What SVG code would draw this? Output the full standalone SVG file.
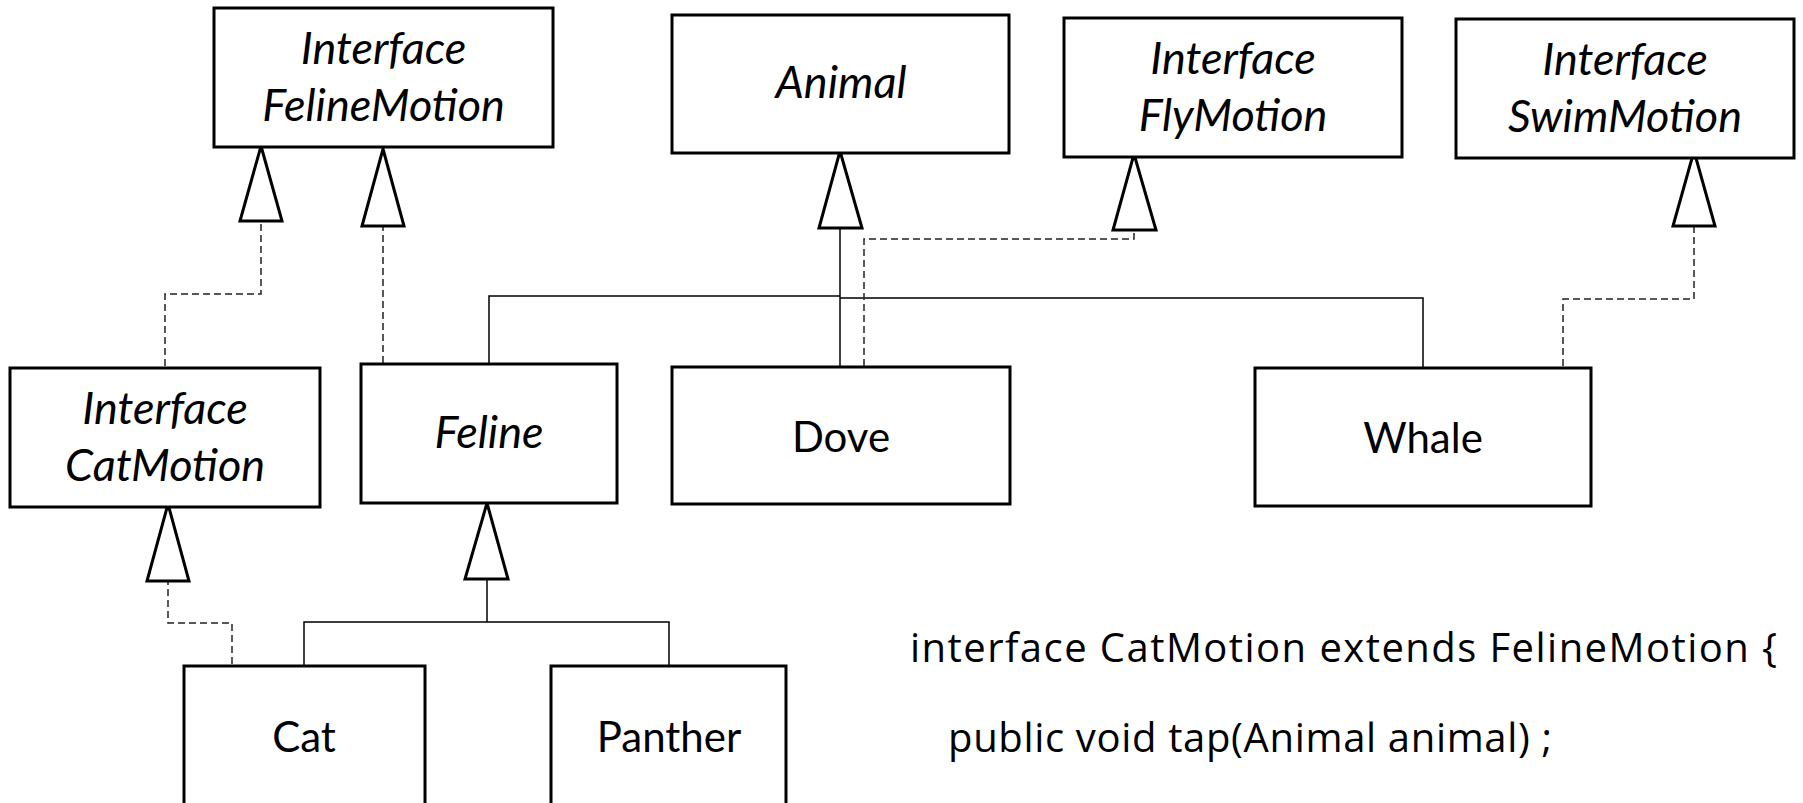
<svg xmlns="http://www.w3.org/2000/svg" width="1803" height="803" viewBox="0 0 1803 803">
<style>
.box{fill:#fff;stroke:#000;stroke-width:3}
.lbl{font-family:Lato,"Open Sans",sans-serif;font-size:42px;fill:#000;text-anchor:middle}
.it{font-style:italic;font-size:45px}
.solid{fill:none;stroke:#000;stroke-width:1.5}
.dash{fill:none;stroke:#222;stroke-width:1.5;stroke-dasharray:7 4}
.tri{fill:#fff;stroke:#000;stroke-width:3;stroke-linejoin:miter}
.code{font-family:"Comic Sans MS","Open Sans",sans-serif;font-size:40px;fill:#000}
</style>
<rect width="1803" height="803" fill="#fff"/>
<g id="connectors">
<path class="dash" d="M165,366 V294 H261 V221"/>
<path class="dash" d="M383,363 V226"/>
<path class="solid" d="M489,364 V296 H840"/>
<path class="solid" d="M840,228 V366"/>
<path class="solid" d="M1423,368 V298 H840"/>
<path class="dash" d="M864,366 V239 H1134 V230"/>
<path class="dash" d="M1563,366 V299 H1694 V226"/>
<path class="dash" d="M232,664 V623 H168 V581"/>
<path class="solid" d="M304,666 V622 H669 V666 M487,622 V579"/>
<polygon class="tri" points="261,146 282,221 240,221"/>
<polygon class="tri" points="383,149 404,226 362,226"/>
<polygon class="tri" points="840,151 862,228 819,228"/>
<polygon class="tri" points="1134,154 1156,230 1113,230"/>
<polygon class="tri" points="1694,151 1715,226 1673,226"/>
<polygon class="tri" points="168,504 189,581 147,581"/>
<polygon class="tri" points="487,503 508,579 465,579"/>
</g>
<g id="FelineMotion">
<rect class="box" x="214" y="8" width="339" height="139"/>
<text class="lbl it" x="383.5" y="64">Interface</text>
<text class="lbl it" x="383.5" y="121">FelineMotion</text>
</g>
<g id="Animal">
<rect class="box" x="672" y="15" width="337" height="138"/>
<text class="lbl it" x="841" y="98">Animal</text>
</g>
<g id="FlyMotion">
<rect class="box" x="1064" y="18" width="338" height="139"/>
<text class="lbl it" x="1233" y="74">Interface</text>
<text class="lbl it" x="1233" y="131">FlyMotion</text>
</g>
<g id="SwimMotion">
<rect class="box" x="1456" y="19" width="338" height="139"/>
<text class="lbl it" x="1625" y="75">Interface</text>
<text class="lbl it" x="1625" y="132">SwimMotion</text>
</g>
<g id="CatMotion">
<rect class="box" x="10" y="368" width="310" height="139"/>
<text class="lbl it" x="165" y="424">Interface</text>
<text class="lbl it" x="165" y="481">CatMotion</text>
</g>
<g id="Feline">
<rect class="box" x="361" y="364" width="256" height="139"/>
<text class="lbl it" x="489" y="448">Feline</text>
</g>
<g id="Dove">
<rect class="box" x="672" y="367" width="338" height="137"/>
<text class="lbl" x="841" y="452">Dove</text>
</g>
<g id="Whale">
<rect class="box" x="1255" y="368" width="336" height="138"/>
<text class="lbl" x="1423" y="453">Whale</text>
</g>
<g id="Cat">
<rect class="box" x="184" y="666" width="241" height="160"/>
<text class="lbl" x="304" y="752">Cat</text>
</g>
<g id="Panther">
<rect class="box" x="551" y="666" width="235" height="160"/>
<text class="lbl" x="669" y="752">Panther</text>
</g>
<g id="code">
<text class="code" x="910" y="662" textLength="867">interface CatMotion extends FelineMotion {</text>
<text class="code" x="948" y="752" textLength="604">public void tap(Animal animal) ;</text>
</g>
</svg>
